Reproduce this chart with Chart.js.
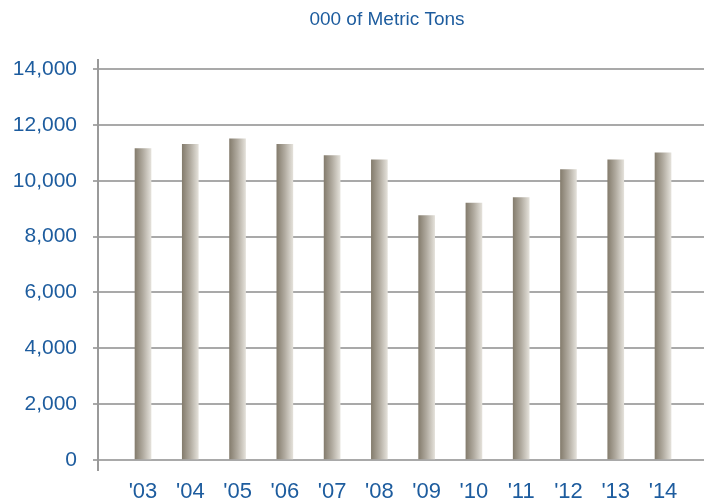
<!DOCTYPE html>
<html lang="en">
<head>
    <meta charset="UTF-8">
    <title>000 of Metric Tons</title>
    <script src="https://cdn.jsdelivr.net/npm/chart.js"></script>
    <style>
        html, body { margin: 0; padding: 0; background: #fff; }
        .chart-container { position: relative; width: 704px; height: 504px; }
    </style>
</head>
<body>
    <div class="chart-container">
        <canvas id="tonsChart" width="704" height="504"></canvas>
    </div>

    <script>
        // 연도 라벨
        const years = ["'03", "'04", "'05", "'06", "'07", "'08", "'09", "'10", "'11", "'12", "'13", "'14"];
        // 값 (000 톤)
        const tons = [11150, 11300, 11500, 11300, 10900, 10750, 8750, 9200, 9400, 10400, 10750, 11000];
        // y축 눈금
        const yTicks = [0, 2000, 4000, 6000, 8000, 10000, 12000, 14000];
        const titleText = '000 of Metric Tons';

        const textBlue = '#1d5c9e';
        const fontFamily = "'Liberation Sans', Arial, sans-serif";

        function barGradient(context) {
            const chart = context.chart;
            const xScale = chart.scales.x;
            if (!chart.chartArea || !xScale) return '#b3ada2';
            const cx = xScale.getPixelForValue(context.dataIndex);
            const g = chart.ctx.createLinearGradient(cx - 8, 0, cx + 8, 0);
            g.addColorStop(0, '#857d6e');
            g.addColorStop(0.5, '#b1aba0');
            g.addColorStop(1, '#e3e0d9');
            return g;
        }

        // 제목: 원본처럼 x=387 중앙에 그림
        const titlePlugin = {
            id: 'topTitle',
            afterDraw(chart) {
                const c = chart.ctx;
                c.save();
                c.font = '19px ' + fontFamily;
                c.fillStyle = textBlue;
                c.textAlign = 'center';
                c.textBaseline = 'middle';
                c.fillText(titleText, 387, 20);
                c.restore();
            }
        };

        const ctx = document.getElementById('tonsChart').getContext('2d');
        new Chart(ctx, {
            type: 'bar',
            data: {
                datasets: [{
                    data: tons.map((v, i) => ({ x: i, y: v })),
                    backgroundColor: barGradient,
                    borderWidth: 0,
                    barThickness: 16
                }]
            },
            options: {
                responsive: false,
                animation: false,
                devicePixelRatio: 1,
                layout: { padding: { left: 0, right: 0, top: 60, bottom: 0 } },
                scales: {
                    x: {
                        type: 'linear',
                        offset: false,
                        min: -0.952,
                        max: 11.867,
                        grid: { display: false, drawTicks: false },
                        border: { display: false },
                        ticks: {
                            stepSize: 1,
                            includeBounds: false,
                            autoSkip: false,
                            maxRotation: 0,
                            padding: 9,
                            color: textBlue,
                            font: { family: fontFamily, size: 22 },
                            callback: function(value) {
                                return Number.isInteger(value) && years[value] !== undefined ? years[value] : '';
                            }
                        },
                        afterFit: function(scale) { scale.height = 34; }
                    },
                    y: {
                        min: -358,
                        max: 14322,
                        afterBuildTicks: function(scale) {
                            scale.ticks = yTicks.map(v => ({ value: v }));
                        },
                        grid: {
                            color: '#a9a9a9',
                            lineWidth: 2,
                            tickLength: 5
                        },
                        border: { display: true, color: '#9a9a9a', width: 2 },
                        ticks: {
                            padding: 16,
                            color: textBlue,
                            font: { family: fontFamily, size: 21 },
                            callback: function(value) {
                                return value.toLocaleString('en-US');
                            }
                        },
                        afterFit: function(scale) { scale.width = 98; }
                    }
                },
                plugins: {
                    legend: { display: false },
                    tooltip: { enabled: false },
                    title: { display: false }
                }
            },
            plugins: [titlePlugin]
        });
    </script>
</body>
</html>
